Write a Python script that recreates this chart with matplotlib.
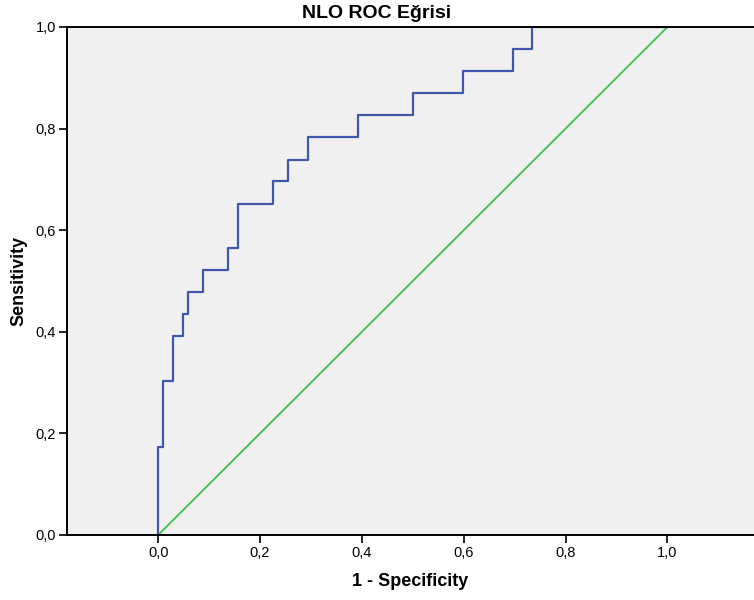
import matplotlib
matplotlib.use("Agg")
import matplotlib.pyplot as plt
from matplotlib.ticker import FuncFormatter

# ROC corner points (1 - specificity, sensitivity)
fpr = [0, 0, 0.0098, 0.0294, 0.049, 0.0588, 0.088, 0.137, 0.157, 0.225,
       0.255, 0.294, 0.392, 0.5, 0.598, 0.696, 0.735, 1.0]
tpr = [0, 0.174, 0.304, 0.391, 0.435, 0.478, 0.522, 0.565, 0.652, 0.696,
       0.739, 0.783, 0.826, 0.870, 0.913, 0.957, 1.0, 1.0]
ref_line = [0, 1]
ticks = [0.0, 0.2, 0.4, 0.6, 0.8, 1.0]

plt.rcParams['font.family'] = ['Liberation Sans', 'DejaVu Sans']

fig = plt.figure(figsize=(7.54, 6.0), dpi=100)
ax = fig.add_axes([67 / 754, 65 / 600, 1 - 67 / 754, (535 - 27) / 600])
ax.set_facecolor('#f0f0f0')

# curve and reference diagonal
ax.plot(fpr, tpr, drawstyle='steps-post', color='#3f57ad', linewidth=1.6)
ax.plot(ref_line, ref_line, color='#3cbf4a', linewidth=1.3)

ax.set_xlim(-0.179, 1.17)
ax.set_ylim(0, 1)
ax.set_xticks(ticks)
ax.set_yticks(ticks)
fmt = FuncFormatter(lambda v, p: f'{v:.1f}'.replace('.', ','))
ax.xaxis.set_major_formatter(fmt)
ax.yaxis.set_major_formatter(fmt)
ax.tick_params(direction='out', length=6, width=1.2, labelsize=10.5, pad=2)

for side in ['left', 'bottom', 'top']:
    ax.spines[side].set_linewidth(1.4)
ax.spines['right'].set_visible(False)

ax.set_xlabel('1 - Specificity', fontsize=13, fontweight='bold', labelpad=9)
ax.set_ylabel('Sensitivity', fontsize=13, fontweight='bold', labelpad=6)
fig.text(377 / 754, 1 - 14 / 600, 'NLO ROC Eğrisi', ha='center', va='center',
         fontsize=14, fontweight='bold')

fig.savefig('out.png', dpi=100, facecolor='white')
